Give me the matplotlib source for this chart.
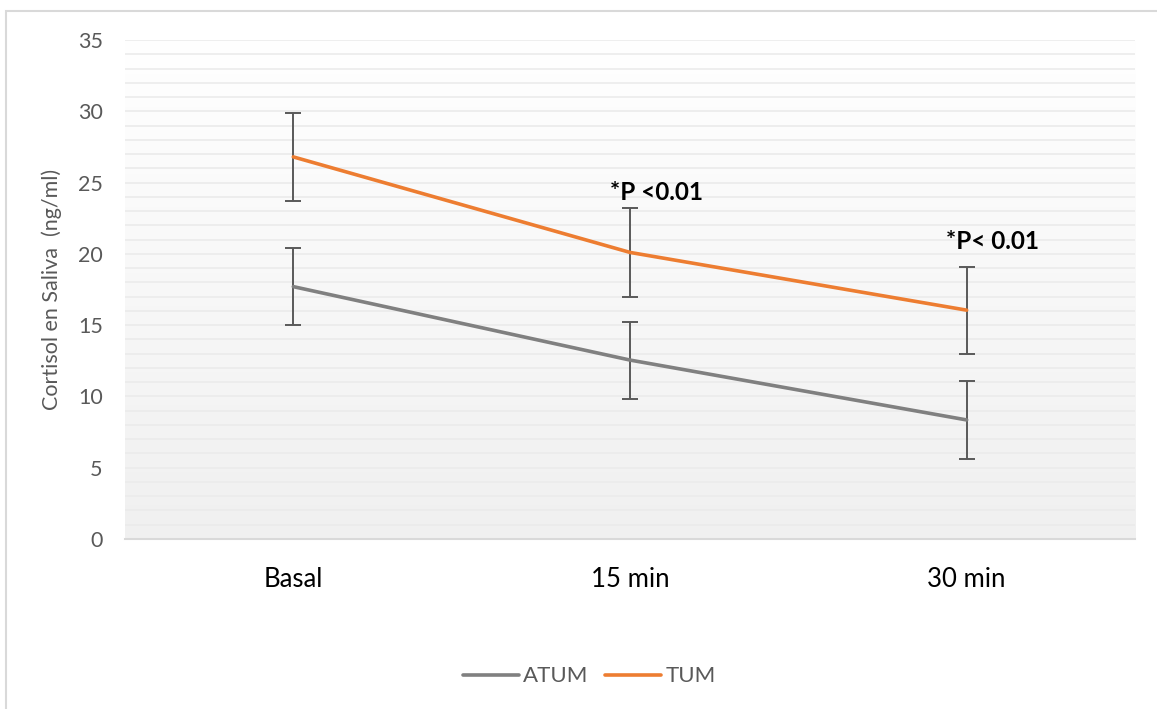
import matplotlib.pyplot as plt
import numpy as np
from matplotlib.patches import Rectangle

plt.rcParams['font.family'] = ['Lato', 'DejaVu Sans']

# data
tiempos = ['Basal', '15 min', '30 min']
atum = [17.7, 12.55, 8.35]
atum_err = [2.7, 2.7, 2.75]
tum = [26.8, 20.1, 16.05]
tum_err = [3.1, 3.1, 3.05]
p_labels = ['', '*P <0.01', '*P< 0.01']
p_label_y = [0, 24.3, 20.9]

gris = '#808080'
naranja = '#ED7D31'
texto = '#595959'

fig = plt.figure(figsize=(11.57, 7.09), dpi=100)
ax = fig.add_axes([0.108, 0.2398, 0.873, 0.7038])

x = np.arange(len(tiempos))

# vertical gradient behind the plot area
grad = np.linspace(0, 1, 256).reshape(-1, 1)
ax.imshow(grad, extent=[0, 1, 0, 1], transform=ax.transAxes, aspect='auto',
          cmap=plt.matplotlib.colors.LinearSegmentedColormap.from_list('bg', ['#f0f0f0', '#ffffff']),
          origin='lower', zorder=0)

ax.set_xlim(-0.5, 2.5)
ax.set_ylim(0, 35)
ax.set_yticks(np.arange(0, 36, 5))
ax.set_yticks(np.arange(0, 36, 1), minor=True)
ax.grid(axis='y', which='both', color='#ebebeb', lw=1.2, zorder=1)
ax.set_axisbelow(True)

ax.errorbar(x, atum, yerr=atum_err, fmt='none', ecolor=texto, elinewidth=1.4,
            capsize=6, capthick=1.4, zorder=3)
ax.errorbar(x, tum, yerr=tum_err, fmt='none', ecolor=texto, elinewidth=1.4,
            capsize=6, capthick=1.4, zorder=3)
ax.plot(x, atum, color=gris, lw=2.6, label='ATUM', zorder=4, solid_capstyle='round')
ax.plot(x, tum, color=naranja, lw=2.6, label='TUM', zorder=4, solid_capstyle='round')

for i, lab in enumerate(p_labels):
    if lab:
        ax.text(x[i] + 0.078, p_label_y[i], lab, ha='center', va='center',
                fontsize=17.5, fontweight='bold', color='black')

for s in ['left', 'right', 'top']:
    ax.spines[s].set_visible(False)
ax.spines['bottom'].set_color('#d9d9d9')
ax.spines['bottom'].set_linewidth(1.5)

ax.set_xticks(x)
ax.set_xticklabels(tiempos, fontsize=18.5, color='black')
ax.tick_params(axis='x', length=0, pad=20)
ax.tick_params(axis='y', which='both', length=0, labelsize=15.5, labelcolor=texto, pad=16)
ax.set_ylabel('Cortisol en Saliva  (ng/ml)', fontsize=15.5, color=texto, labelpad=11)

fig.legend(loc='center', bbox_to_anchor=(0.5095, 0.046), ncol=2, frameon=False,
           fontsize=16, labelcolor=texto, handlelength=2.5, handletextpad=0.2,
           columnspacing=0.75)

# chart border
fig.patches.append(Rectangle((6 / 1157, -0.05), 1.1, 1 - 10.5 / 709 + 0.05,
                             transform=fig.transFigure, fill=False,
                             edgecolor='#d9d9d9', lw=1.5))

fig.savefig('out.png', dpi=100)
